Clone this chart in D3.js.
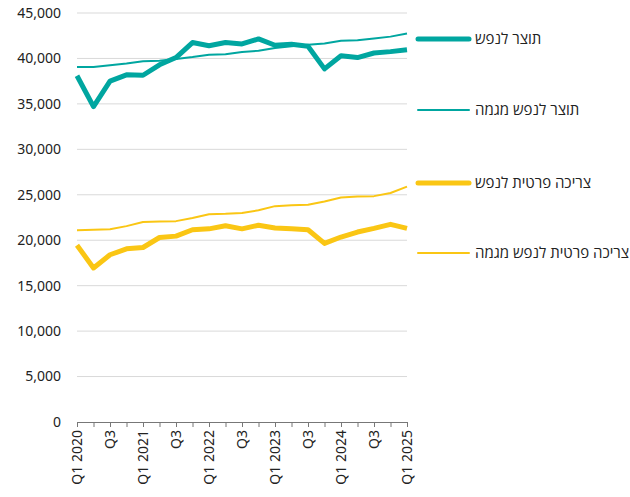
<!DOCTYPE html>
<html>
<head>
<meta charset="utf-8">
<script src="https://cdn.jsdelivr.net/npm/d3@7"></script>
<style>
  body { margin: 0; background: #fff; }
  text { font-family: "Noto Sans", "Open Sans", sans-serif; }
</style>
</head>
<body>
<svg id="chart" width="630" height="497"></svg>
<script>
// quarters Q1 2020 .. Q1 2025
let quarters = [];
for (let y = 2020; y <= 2025; y++) {
  for (let q = 1; q <= 4; q++) {
    if (y === 2025 && q > 1) break;
    quarters.push('Q' + q + ' ' + y);
  }
}

let gdpPerCapita = [38100, 34700, 37500, 38200, 38150, 39300, 40100, 41750, 41400, 41750, 41600, 42150, 41450, 41550, 41350, 38850, 40300, 40100, 40600, 40750, 40950];
let gdpTrend = [39050, 39050, 39250, 39450, 39700, 39750, 39950, 40150, 40400, 40450, 40700, 40850, 41150, 41350, 41500, 41650, 41950, 42000, 42200, 42400, 42750];
let consPerCapita = [19450, 16950, 18400, 19050, 19200, 20300, 20450, 21150, 21250, 21600, 21250, 21650, 21350, 21250, 21150, 19650, 20350, 20900, 21300, 21750, 21300];
let consTrend = [21100, 21150, 21200, 21550, 22000, 22050, 22100, 22450, 22850, 22900, 23000, 23300, 23750, 23850, 23900, 24250, 24700, 24800, 24850, 25200, 25900];

let yTicks = d3.range(0, 45001, 5000);

let series = [
  { name: 'תוצר לנפש', values: gdpPerCapita, color: '#00a6a0', width: 5 },
  { name: 'תוצר לנפש מגמה', values: gdpTrend, color: '#00a6a0', width: 2 },
  { name: 'צריכה פרטית לנפש', values: consPerCapita, color: '#fac614', width: 5 },
  { name: 'צריכה פרטית לנפש מגמה', values: consTrend, color: '#fac614', width: 2 }
];

let svg = d3.select('#chart');

let x = d3.scalePoint()
  .domain(quarters)
  .range([77, 407]);

let y = d3.scaleLinear()
  .domain([0, 45000])
  .range([422, 13]);

// gridlines
svg.append('g')
  .selectAll('line')
  .data(yTicks.filter(d => d > 0))
  .enter()
  .append('line')
    .attr('x1', 77)
    .attr('x2', 407)
    .attr('y1', d => y(d))
    .attr('y2', d => y(d))
    .attr('stroke', '#d9d9d9')
    .attr('stroke-width', 1);

// y labels
svg.append('g')
  .selectAll('text')
  .data(yTicks)
  .enter()
  .append('text')
    .attr('x', 61)
    .attr('y', d => y(d))
    .attr('dy', '0.35em')
    .attr('text-anchor', 'end')
    .attr('font-size', 14)
    .attr('fill', '#222')
    .text(d => d3.format(',')(d));

// x axis
let xAxis = svg.append('g')
  .attr('transform', 'translate(0,' + y(0) + ')')
  .call(d3.axisBottom(x).tickSize(5).tickFormat(d => {
    let i = quarters.indexOf(d);
    if (i % 2 !== 0) return '';
    return d.startsWith('Q1') ? d : d.split(' ')[0];
  }));

xAxis.select('.domain').attr('stroke', '#777');
xAxis.selectAll('.tick line').attr('stroke', '#777');
xAxis.selectAll('.tick text')
  .attr('font-family', '"Noto Sans", "Open Sans", sans-serif')
  .attr('font-size', 14)
  .attr('fill', '#222')
  .attr('transform', 'rotate(-90)')
  .attr('text-anchor', 'end')
  .attr('x', -8)
  .attr('y', 0)
  .attr('dy', '0.35em');

// lines
let line = d3.line()
  .x((d, i) => x(quarters[i]))
  .y(d => y(d));

svg.append('g')
  .selectAll('path')
  .data(series)
  .enter()
  .append('path')
    .attr('d', d => line(d.values))
    .attr('fill', 'none')
    .attr('stroke', d => d.color)
    .attr('stroke-width', d => d.width)
    .attr('stroke-linejoin', 'round');

// legend
let legendY = [39, 110, 183, 253];

let legend = svg.append('g')
  .selectAll('g')
  .data(series)
  .enter()
  .append('g')
    .attr('transform', (d, i) => 'translate(0,' + legendY[i] + ')');

legend.append('line')
  .attr('x1', 418)
  .attr('x2', 469)
  .attr('stroke', d => d.color)
  .attr('stroke-width', d => d.width)
  .attr('stroke-linecap', 'round');

legend.append('text')
  .attr('x', 475)
  .attr('dy', '0.35em')
  .attr('font-family', '"Liberation Sans", Arial, sans-serif')
  .attr('font-size', 15)
  .attr('fill', '#222')
  .attr('text-anchor', 'start')
  .text(d => d.name);
</script>
</body>
</html>
